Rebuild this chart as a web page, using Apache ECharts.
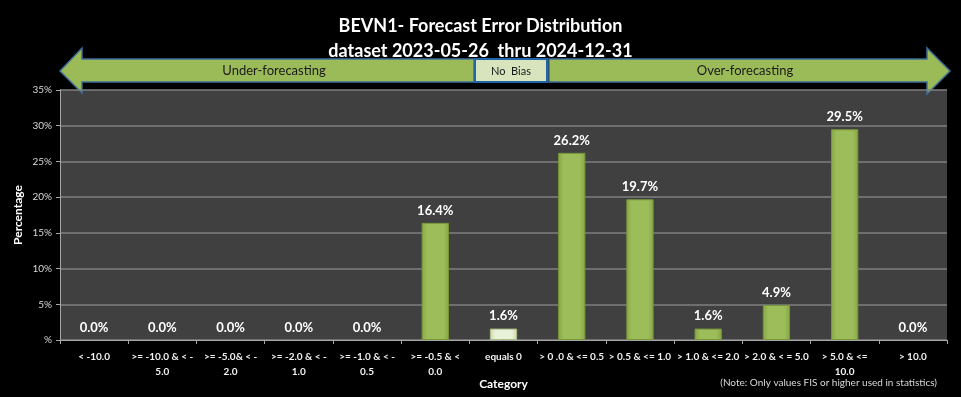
<!DOCTYPE html>
<html>
<head>
<meta charset="utf-8">
<script src="https://cdn.jsdelivr.net/npm/echarts@6/dist/echarts.min.js"></script>
<style>
  html, body { margin: 0; padding: 0; background: #000; }
  #chart { width: 961px; height: 397px; }
</style>
</head>
<body>
<div id="chart"></div>
<script>
// 误差区间
var categories = [
  '< -10.0', '>= -10.0 & < -\n5.0', '>= -5.0& < -\n2.0', '>= -2.0 & < -\n1.0',
  '>= -1.0 & < -\n0.5', '>= -0.5 & <\n0.0', 'equals 0', '> 0 .0 & <= 0.5',
  '> 0.5 & <= 1.0', '> 1.0 & <= 2.0', '> 2.0 & < = 5.0', '> 5.0 & <=\n10.0', '> 10.0'
];
// 百分比
var percents = [0.0, 0.0, 0.0, 0.0, 0.0, 16.4, 1.6, 26.2, 19.7, 1.6, 4.9, 29.5, 0.0];
var noBiasIndex = 6;

var font = 'Lato, "Open Sans", sans-serif';

var greenBar = {
  type: 'linear', x: 0, y: 0, x2: 1, y2: 0,
  colorStops: [
    { offset: 0, color: '#86a844' },
    { offset: 0.2, color: '#9cbd5a' },
    { offset: 0.8, color: '#9cbd5a' },
    { offset: 1, color: '#86a844' }
  ]
};
var paleBar = {
  type: 'linear', x: 0, y: 0, x2: 1, y2: 0,
  colorStops: [
    { offset: 0, color: '#c9d9a8' },
    { offset: 0.2, color: '#eaf1da' },
    { offset: 0.8, color: '#eaf1da' },
    { offset: 1, color: '#c9d9a8' }
  ]
};

var barData = percents.map(function (v, i) {
  var bw = v === 0 ? 0 : 1;
  return {
    value: v,
    itemStyle: i === noBiasIndex
      ? { color: paleBar, borderColor: '#a9bd84', borderWidth: bw }
      : { color: greenBar, borderColor: '#78963a', borderWidth: bw }
  };
});

var arrowStyle = { fill: '#9bbb59', stroke: '#3e6d96', lineWidth: 1.5 };

var myChart = echarts.init(document.getElementById('chart'));
var option = {
  backgroundColor: '#000000',
  animation: false,
  title: {
    text: 'BEVN1- Forecast Error Distribution\ndataset 2023-05-26  thru 2024-12-31',
    left: 'center',
    top: 9,
    textStyle: { color: '#ffffff', fontFamily: font, fontWeight: 'bold', fontSize: 18, lineHeight: 25 }
  },
  grid: {
    left: 60, right: 14, top: 90, bottom: 57, show: true, backgroundColor: '#404040', borderWidth: 0,
    outerBoundsMode: 'none', containLabel: false
  },
  xAxis: {
    type: 'category',
    data: categories,
    name: 'Category',
    nameLocation: 'middle',
    nameGap: 38,
    nameMoveOverlap: false,
    nameTextStyle: { color: '#ffffff', fontFamily: font, fontWeight: 'bold', fontSize: 12 },
    axisLine: { lineStyle: { color: '#a6a6a6', width: 1 } },
    axisTick: { show: true, length: 4, lineStyle: { color: '#a6a6a6' } },
    axisLabel: {
      interval: 0, color: '#f2f2f2', fontFamily: font, fontWeight: 'bold', fontSize: 10,
      lineHeight: 15, margin: 9
    }
  },
  yAxis: {
    type: 'value',
    min: 0, max: 35, interval: 5,
    name: 'Percentage',
    nameLocation: 'middle',
    nameRotate: 90,
    nameGap: 36,
    nameMoveOverlap: false,
    nameTextStyle: { color: '#ffffff', fontFamily: font, fontWeight: 'bold', fontSize: 12 },
    axisLine: { show: true, lineStyle: { color: '#a6a6a6' } },
    axisTick: { show: true, length: 4, lineStyle: { color: '#a6a6a6' } },
    axisLabel: {
      color: '#d9d9d9', fontFamily: font, fontSize: 10, margin: 8,
      formatter: function (v) { return v === 0 ? '%' : v + '%'; }
    },
    splitLine: { lineStyle: { color: '#7f7f7f', width: 1.5 } }
  },
  series: [{
    type: 'bar',
    data: barData,
    barWidth: '40%',
    label: {
      show: true,
      position: 'top',
      distance: 6,
      color: '#ffffff',
      fontFamily: font,
      fontWeight: 'bold',
      fontSize: 13,
      formatter: function (p) { return p.value.toFixed(1) + '%'; }
    }
  }],
  graphic: [
    // 左箭头
    {
      type: 'polygon',
      shape: { points: [[60, 71], [82, 48], [82, 59], [474, 59], [474, 82], [82, 82], [82, 93]] },
      style: arrowStyle
    },
    {
      type: 'text', x: 274, y: 71,
      style: { text: 'Under-forecasting', fill: '#1a1a1a', font: '13px ' + font, align: 'center', verticalAlign: 'middle' }
    },
    // 右箭头
    {
      type: 'polygon',
      shape: { points: [[549, 59], [927, 59], [927, 48], [950, 71], [927, 94], [927, 82], [549, 82]] },
      style: arrowStyle
    },
    {
      type: 'text', x: 745, y: 71,
      style: { text: 'Over-forecasting', fill: '#1a1a1a', font: '13px ' + font, align: 'center', verticalAlign: 'middle' }
    },
    // 无偏差
    {
      type: 'rect',
      shape: { x: 475, y: 59, width: 72, height: 23 },
      style: { fill: '#d7e4bd', stroke: '#1f65a8', lineWidth: 2 }
    },
    {
      type: 'text', x: 511, y: 71,
      style: { text: 'No  Bias', fill: '#1a1a1a', font: '11px ' + font, align: 'center', verticalAlign: 'middle' }
    },
    {
      type: 'text', x: 937, y: 383,
      style: { text: '(Note: Only values FIS or higher used in statistics)', fill: '#d9d9d9', font: '10px ' + font, align: 'right', verticalAlign: 'middle' }
    }
  ]
};
myChart.setOption(option);
</script>
</body>
</html>
